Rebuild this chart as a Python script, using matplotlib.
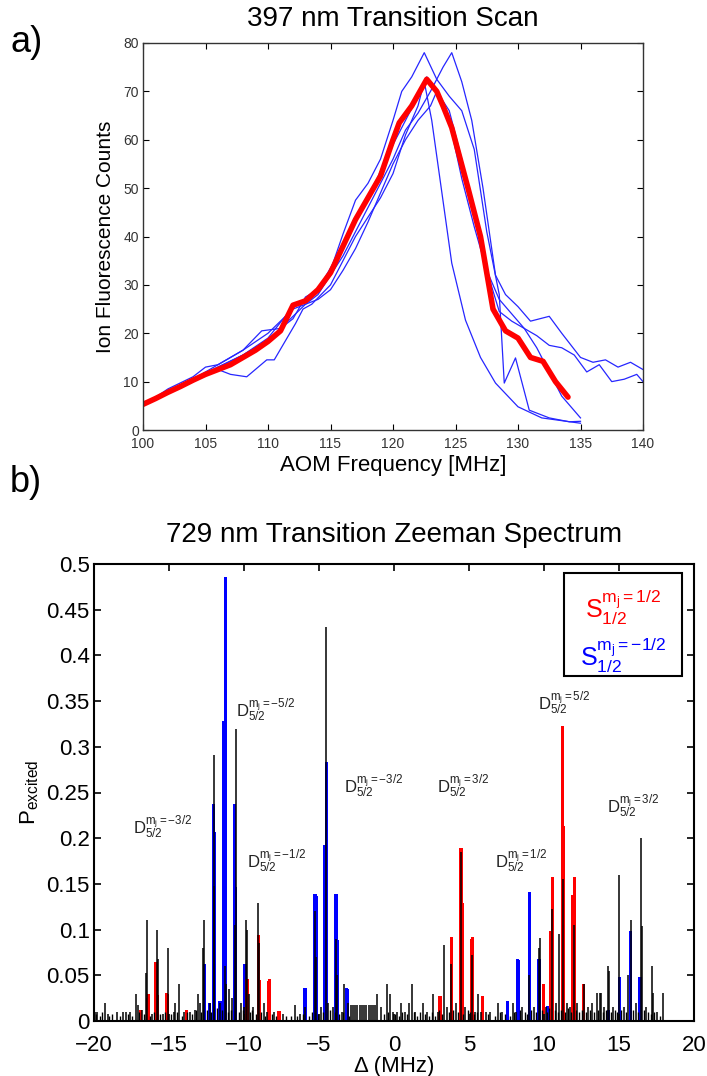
import matplotlib
matplotlib.use("Agg")
import matplotlib.pyplot as plt
from matplotlib.patches import Rectangle

plt.rcParams['font.family'] = ['Liberation Sans', 'DejaVu Sans']
plt.rcParams['mathtext.fontset'] = 'custom'
plt.rcParams['mathtext.rm'] = 'Liberation Sans'
plt.rcParams['mathtext.it'] = 'Liberation Sans'
plt.rcParams['mathtext.default'] = 'regular'

# ---------------- Panel a) data ----------------
red_x = [100, 101, 102, 103, 104, 105, 106, 107, 108, 109, 110, 111, 112, 113, 114, 115, 116, 117,
         118, 119, 120, 120.5, 121.5, 122.7, 123.5, 124, 124.7, 126, 127, 128, 129, 130, 131, 132, 133, 134]
red_y = [5.3, 6.5, 7.8, 9.0, 10.3, 11.5, 12.5, 13.5, 15.0, 16.5, 18.3, 20.5, 25.8, 26.7, 29.0, 32.5, 38.0, 43.5,
         48.0, 52.5, 60.0, 63.5, 67.0, 72.5, 70.0, 67.0, 62.5, 50.0, 40.0, 25.0, 20.5, 19.0, 15.0, 14.2, 10.0, 6.8]

c1_x = [100, 102, 104, 106, 108, 110, 112, 113, 114, 116, 118, 120, 121, 122, 123, 124, 124.7, 125.5, 126.3,
        127.2, 128.2, 129, 130, 131, 132.5, 133.5, 135, 136, 137, 138, 139, 140]
c1_y = [5.5, 8, 10.5, 13.5, 16.5, 20, 25, 26, 28, 36, 46, 56, 62, 65.5, 70, 75, 78, 72, 64,
        50, 32, 28, 25.5, 22.5, 23.5, 20, 15, 14, 14.5, 13, 14, 12.5]
c2_x = [100, 102, 104, 106, 108, 110, 112, 113, 114, 116, 118, 120, 121, 122, 122.7, 123.5, 124.5, 125.5,
        126.5, 127.5, 128.5, 129.5, 130.5, 131.5, 132.5, 133.5, 134.5, 135.5, 136.5, 137.5, 138.5, 139.5, 140]
c2_y = [5, 7.5, 10, 13, 15.5, 19, 25.5, 26.5, 29, 38, 48, 59, 64, 69, 73, 70, 64, 52,
        42, 33, 24.5, 22.5, 21, 19.5, 17.5, 17, 15.5, 12, 13.5, 10, 10.5, 11.5, 10]
c3_x = [100, 102, 104, 106, 107, 108.3, 109.9, 110.5, 112.2, 112.8, 113.5, 115, 116, 117, 118, 119, 120, 121,
        122, 122.5, 123.1, 124.7, 125.8, 127, 128.2, 130, 131.9, 135]
c3_y = [5, 7.5, 10, 12.5, 11.5, 11, 14.5, 14.5, 22, 25, 26, 30, 35, 40, 44, 48, 53, 61,
        67, 72, 64, 34.5, 22.7, 15, 9.7, 4.8, 2.5, 1.4]
c4_x = [100, 102, 104, 105, 106, 108, 109.5, 111, 112, 113, 114, 115, 116, 117, 118, 119, 120, 120.7,
        121.5, 122.5, 123.5, 124.5, 125.5, 126.5, 127.5, 128.5, 128.9, 129.8, 130.9, 132.5, 134.1, 135]
c4_y = [5, 8.5, 11, 13, 13.5, 16.5, 20.5, 21, 23, 27.5, 29, 33, 40.5, 47.5, 51, 56, 64, 70,
        73, 78, 72.5, 69, 66, 58, 41, 28, 9.7, 14.9, 4.1, 2.5, 1.7, 1.8]
c5_x = [100, 102, 104, 106, 108, 110, 112, 113, 114, 115, 116, 117, 118, 119, 120, 121, 122, 123, 123.5,
        124.5, 125.5, 126.5, 127.5, 128.5, 129.5, 130.5, 131.5, 132.5, 133.5, 135]
c5_y = [5.5, 8, 10.5, 13, 15.5, 18.5, 23.5, 26, 27, 29, 33, 37.5, 43, 49, 55, 60, 64, 67, 70,
        66, 56, 45, 33, 27, 24, 21, 17, 12, 7, 2.5]
blue_curves = [(c1_x, c1_y), (c2_x, c2_y), (c3_x, c3_y), (c4_x, c4_y), (c5_x, c5_y)]

a_xticks = [100, 105, 110, 115, 120, 125, 130, 135, 140]
a_yticks = [0, 10, 20, 30, 40, 50, 60, 70, 80]

# ---------------- Panel b) data ----------------
blue_pos = [-12.62, -12.3, -12.04, -11.96, -11.6, -11.33, -11.25, -10.62, -10.55, -9.93,
            -5.93, -5.26, -5.18, -4.6, -4.52, -3.86, -3.78, -3.18, -3.12,
            7.56, 8.25, 8.32, 9.02, 9.66, 10.27, 14.29, 15.05, 15.76, 16.4]
blue_val = [0.062, 0.02, 0.237, 0.207, 0.022, 0.328, 0.486, 0.237, 0.147, 0.062,
            0.036, 0.139, 0.137, 0.193, 0.283, 0.139, 0.089, 0.036, 0.035,
            0.022, 0.068, 0.067, 0.141, 0.068, 0.016, 0.012, 0.048, 0.098, 0.048]

red_pos = [-16.9, -16.45, -16.38, -15.87, -15.8, -15.16, -15.1, -13.85, -9.8, -9.04, -8.98,
           -8.34, -8.28, -7.67, 3.07, 3.82, 4.47, 4.53, 5.15, 5.21, 5.91,
           9.96, 10.47, 10.56, 11.24, 11.3, 11.93, 12.02, 12.62]
red_val = [0.012, 0.025, 0.030, 0.065, 0.028, 0.031, 0.030, 0.012, 0.046, 0.094, 0.045,
           0.044, 0.046, 0.011, 0.027, 0.092, 0.189, 0.129, 0.090, 0.092, 0.027,
           0.041, 0.098, 0.158, 0.323, 0.213, 0.138, 0.158, 0.041]

black_pos = [-19.93, -19.8, -19.27, -19.1, -18.5, -18.1, -17.9, -17.6, -17.2, -17.1, -16.8, -16.52, -16.47,
             -16.1, -15.8, -15.75, -15.4, -15.07, -14.7, -14.6, -14.31, -14.0, -13.6, -13.3, -13.1, -12.95,
             -12.72, -12.67, -12.3, -12.02, -11.98, -11.6, -11.3, -11.2, -11.0, -10.8, -10.6, -10.56, -10.2,
             -10.0, -9.87, -9.83, -9.7, -9.4, -9.04, -9.0, -8.7, -8.5, -8.0, -7.4, -6.6, -6.3, -5.93, -5.24,
             -5.2, -4.9, -4.51, -4.4, -4.1, -3.84, -3.8, -3.5, -3.33, -3.1,
             -2.9, -2.75, -2.6, -2.45, -2.3, -2.15, -2.0, -1.85, -1.7, -1.55, -1.4, -1.25,
             -1.15, -0.9, -0.49, -0.27, -0.1, 0.2, 0.44, 0.7, 1.0, 1.18, 1.4, 1.93, 2.2, 2.62, 2.9, 3.33,
             3.5, 3.82, 4.1, 4.47, 4.75, 5.18, 5.4, 5.62, 5.8, 6.1, 6.4, 6.96, 7.2, 7.9, 8.1, 8.5, 9.02,
             9.3, 9.68, 9.73, 10.1, 10.56, 10.8, 11.0, 11.24, 11.5, 11.7, 12.02, 12.2, 12.68, 12.9, 13.2,
             13.5, 13.7, 13.8, 14.0, 14.29, 14.35, 14.6, 15.02, 15.3, 15.6, 15.78, 16.1, 16.47, 16.52,
             16.8, 17.18, 17.25, 17.5, 17.96]
black_val = [0.010, 0.010, 0.020, 0.008, 0.010, 0.010, 0.010, 0.010, 0.030, 0.017, 0.012, 0.053, 0.110,
             0.008, 0.100, 0.068, 0.008, 0.080, 0.010, 0.020, 0.040, 0.010, 0.010, 0.012, 0.030, 0.020,
             0.080, 0.110, 0.020, 0.291, 0.148, 0.020, 0.060, 0.040, 0.035, 0.025, 0.105, 0.320, 0.020,
             0.015, 0.110, 0.100, 0.030, 0.015, 0.129, 0.085, 0.020, 0.010, 0.010, 0.008, 0.017, 0.008, 0.015, 0.120,
             0.070, 0.015, 0.431, 0.020, 0.015, 0.090, 0.050, 0.010, 0.040, 0.020,
             0.018, 0.018, 0.018, 0.018, 0.018, 0.018, 0.018, 0.018, 0.018, 0.018, 0.018, 0.018,
             0.030, 0.015, 0.040, 0.030, 0.010, 0.010, 0.020, 0.010, 0.020, 0.040, 0.010, 0.020, 0.010, 0.030, 0.010, 0.083,
             0.015, 0.062, 0.020, 0.185, 0.015, 0.072, 0.010, 0.030, 0.010, 0.010, 0.010, 0.020, 0.010, 0.020, 0.010, 0.015, 0.050,
             0.015, 0.080, 0.091, 0.015, 0.122, 0.020, 0.095, 0.155, 0.020, 0.015, 0.105, 0.020, 0.040, 0.015, 0.020,
             0.031, 0.031, 0.031, 0.015, 0.060, 0.055, 0.015, 0.160, 0.015, 0.050, 0.110, 0.020, 0.200, 0.104,
             0.015, 0.060, 0.031, 0.010, 0.031]

# low-level background lines close to zero
floor_pos = [-19.85, -19.6, -19.45, -19.0, -18.8, -18.3, -17.75, -17.45, -17.0, -16.65, -16.3, -16.0, -15.6,
             -15.3, -14.9, -14.45, -14.15, -13.8, -13.45, -13.2, -12.85, -12.5, -12.2, -11.8, -11.45, -11.1,
             -10.9, -10.35, -10.1, -9.6, -9.5, -9.2, -8.85, -8.6, -8.15, -7.9, -7.2, -6.9, -6.45, -6.1, -5.7,
             -5.5, -5.05, -4.75, -4.25, -3.95, -3.65, -3.4, -3.0, -0.7, -0.4, 0.05, 0.35, 0.55, 0.85, 1.3,
             1.55, 1.75, 2.05, 2.35, 2.5, 2.75, 3.0, 3.2, 3.65, 3.95, 4.25, 4.6, 4.9, 5.05, 5.3, 5.5,
             6.25, 6.7, 7.05, 7.4, 7.7, 8.0, 8.4, 8.7, 8.85, 9.15, 9.45, 9.85, 10.2, 10.35, 10.7, 10.95,
             11.1, 11.4, 11.6, 11.8, 12.1, 12.35, 12.5, 12.8, 13.05, 13.35, 13.6, 13.9, 14.15, 14.45, 14.7,
             14.85, 15.15, 15.45, 15.9, 16.25, 16.65, 16.95, 17.1, 17.35, 17.7]
floor_val = [0.008, 0.006, 0.010, 0.006, 0.008, 0.006, 0.008, 0.006, 0.010, 0.008, 0.006, 0.010, 0.008,
             0.010, 0.008, 0.010, 0.006, 0.010, 0.008, 0.012, 0.010, 0.012, 0.010, 0.014, 0.012, 0.010,
             0.012, 0.010, 0.012, 0.010, 0.012, 0.008, 0.010, 0.006, 0.008, 0.006, 0.006, 0.006, 0.006, 0.008, 0.006,
             0.010, 0.008, 0.010, 0.012, 0.010, 0.008, 0.010, 0.006, 0.008, 0.010, 0.008, 0.006, 0.010, 0.008, 0.010,
             0.006, 0.010, 0.008, 0.006, 0.010, 0.006, 0.012, 0.008, 0.010, 0.012, 0.010, 0.008, 0.012, 0.010, 0.008, 0.010,
             0.008, 0.006, 0.010, 0.008, 0.006, 0.010, 0.012, 0.010, 0.008, 0.012, 0.010, 0.012, 0.010, 0.014, 0.012, 0.010,
             0.012, 0.010, 0.014, 0.010, 0.012, 0.010, 0.012, 0.010, 0.012, 0.010, 0.012, 0.010, 0.012, 0.010, 0.012,
             0.010, 0.012, 0.010, 0.012, 0.010, 0.012, 0.010, 0.008, 0.010, 0.006]

b_xticks = [-20, -15, -10, -5, 0, 5, 10, 15, 20]
b_yticks = [0, 0.05, 0.1, 0.15, 0.2, 0.25, 0.3, 0.35, 0.4, 0.45, 0.5]
b_yticklabels = ['0', '0.05', '0.1', '0.15', '0.2', '0.25', '0.3', '0.35', '0.4', '0.45', '0.5']

level_labels = ['-3/2', '-5/2', '-1/2', '-3/2', '3/2', '1/2', '5/2', '3/2']
level_x = [-17.4, -10.5, -9.8, -3.33, 2.85, 6.73, 9.58, 14.22]
level_y = [0.205, 0.333, 0.167, 0.25, 0.25, 0.168, 0.34, 0.228]

# ---------------- Figure ----------------
W, H = 707, 1076
fig = plt.figure(figsize=(W / 100, H / 100), dpi=100)

def box(l, t, r, b):
    return [l / W, 1 - b / H, (r - l) / W, (b - t) / H]

# Panel a
ax1 = fig.add_axes(box(143, 43, 643, 430))
for cx, cy in blue_curves:
    ax1.plot(cx, cy, color=(0.15, 0.15, 1.0), lw=0.9)
ax1.plot(red_x, red_y, color='red', lw=4.0, solid_capstyle='round', solid_joinstyle='round')
ax1.set_xlim(100, 140)
ax1.set_ylim(0, 80)
ax1.set_xticks(a_xticks)
ax1.set_yticks(a_yticks)
ax1.tick_params(direction='in', top=True, right=True, labelsize=10, length=4,
                labelcolor='#333333', width=0.8)
ax1.tick_params(axis='x', pad=5)
ax1.tick_params(axis='y', pad=3)
for s in ax1.spines.values():
    s.set_linewidth(1.0)
    s.set_color('#333333')
ax1.set_title('397 nm Transition Scan', fontsize=20, pad=12)
ax1.set_xlabel('AOM Frequency [MHz]', fontsize=16, labelpad=3)
ax1.set_ylabel('Ion Fluorescence Counts', fontsize=15, labelpad=6)

# Panel b
ax2 = fig.add_axes(box(94, 564, 694, 1021))
ax2.bar(blue_pos, blue_val, width=0.22, color='blue', linewidth=0)
ax2.bar(red_pos, red_val, width=0.22, color='red', linewidth=0)
ax2.vlines(floor_pos, 0, floor_val, color='black', lw=1.0)
ax2.vlines(black_pos, 0, black_val, color='black', lw=1.1)
ax2.set_xlim(-20, 20)
ax2.set_ylim(0, 0.5)
ax2.set_xticks(b_xticks)
ax2.set_yticks(b_yticks)
ax2.set_yticklabels(b_yticklabels)
ax2.tick_params(direction='in', top=True, right=True, labelsize=16, length=5, width=1.2)
ax2.tick_params(axis='x', pad=10)
ax2.tick_params(axis='y', pad=3)
for s in ax2.spines.values():
    s.set_linewidth(1.5)
ax2.set_title('729 nm Transition Zeeman Spectrum', fontsize=20, pad=16)
ax2.set_xlabel('Δ (MHz)', fontsize=16, labelpad=0)
ax2.set_ylabel('P$_{excited}$', fontsize=16, labelpad=4)

for lab, lx, ly in zip(level_labels, level_x, level_y):
    ax2.text(lx, ly, 'D$_{5/2}^{m_j=' + lab + '}$', fontsize=12, color='#222222',
             ha='left', va='baseline')

# Legend box
ax2.add_patch(Rectangle((0.784, 0.755), 0.196, 0.226, transform=ax2.transAxes,
                        fill=False, edgecolor='black', lw=1.5))
ax2.text(0.882, 0.905, 'S$_{1/2}^{m_j=1/2}$', transform=ax2.transAxes, color='red',
         fontsize=18, ha='center', va='center')
ax2.text(0.882, 0.80, 'S$_{1/2}^{m_j=-1/2}$', transform=ax2.transAxes, color='blue',
         fontsize=18, ha='center', va='center')

fig.text(10 / W, 1 - 42 / H, 'a)', fontsize=26, ha='left', va='center')
fig.text(10 / W, 1 - 482 / H, 'b)', fontsize=26, ha='left', va='center')

fig.savefig('out.png', dpi=100)
